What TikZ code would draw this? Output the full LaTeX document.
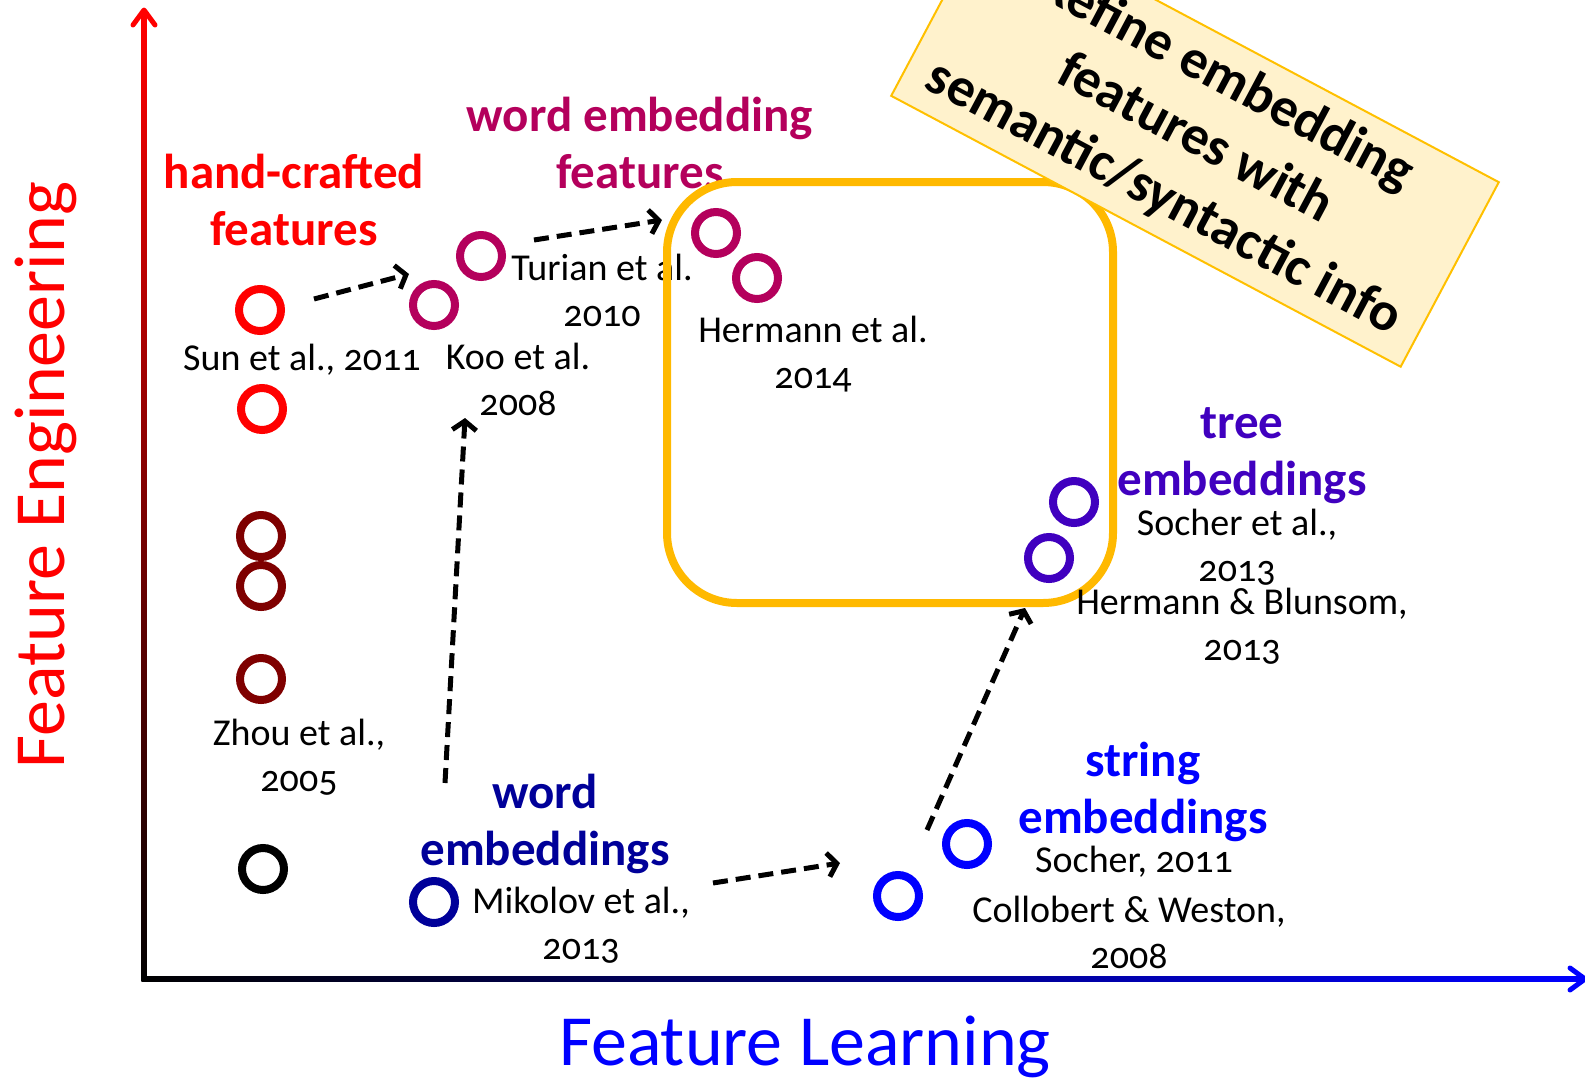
\documentclass[tikz,border=0pt]{standalone}
\usepackage{fontspec}
\setmainfont{Carlito}[Numbers=OldStyle]
\usetikzlibrary{arrows.meta}

\definecolor{hcred}{HTML}{FF0000}
\definecolor{hcdark}{HTML}{7F0000}
\definecolor{wefmag}{HTML}{B4005C}
\definecolor{weblue}{HTML}{000099}
\definecolor{strblue}{HTML}{0000FF}
\definecolor{treeind}{HTML}{4000BF}
\definecolor{boxorange}{HTML}{FFB900}
\definecolor{notefill}{HTML}{FFF2CC}
\definecolor{noteedge}{HTML}{FFC000}

\tikzset{
  ring/.style={circle, draw=#1, line width=8pt, minimum size=42pt, inner sep=0pt},
  cite/.style={align=center, inner sep=0pt, font=\fontsize{38}{46}\selectfont},
  head/.style={align=center, inner sep=0pt, text=#1, font=\bfseries\fontsize{49}{57}\selectfont},
  axislabel/.style={inner sep=0pt, text=#1, font=\fontsize{72}{80}\selectfont},
  flow/.style={line width=5pt, dash pattern=on 15pt off 8pt,
    -{Straight Barb[length=9pt,width=24pt]}},
  chevron/.style={line width=5pt, line cap=round, line join=round}
}

\begin{document}
\begin{tikzpicture}[x=1pt,y=-1pt]
\useasboundingbox (0,0) rectangle (1585,1082);
\clip (0,0) rectangle (1585,1082);

% axes with colour gradients
\coordinate (origin) at (144,979);
\coordinate (ytip) at (144,10);
\coordinate (xtip) at (1585,979);
\shade[top color=hcred, middle color=hcred!55!black, bottom color=black]
  (141.5,14) rectangle (146.5,981.5);
\shade[left color=black, right color=strblue] (141.5,976.5) rectangle (1581,981.5);
\draw[chevron, hcred] (133,25) -- (ytip) -- (155,25);
\draw[chevron, strblue] (1570,968) -- (xtip) -- (1570,990);

\node[axislabel=hcred, rotate=90] (yl) at (46,475) {Feature Engineering};
\node[axislabel=strblue] (xl) at (805,1047) {Feature Learning};

% hand-crafted features
\node[head=hcred] (hc) at (294,200) {hand-crafted\\features};
\node[ring=hcred] (r1) at (260,310) {};
\node[ring=hcred] (r2) at (262,409) {};
\node[ring=hcdark] (d1) at (261,536) {};
\node[ring=hcdark] (d2) at (261,586) {};
\node[ring=hcdark] (d3) at (261,679) {};
\node[ring=black] (b1) at (263,869) {};
\node[cite] (sun) at (302,360) {Sun et al., 2011};
\node[cite] (zhou) at (299,757) {Zhou et al.,\\2005};

% word embedding features
\node[head=wefmag] (wef) at (640,143) {word embedding\\features};
\node[ring=wefmag] (koo) at (434,305) {};
\node[ring=wefmag] (tur) at (481,256) {};
\node[ring=wefmag] (her1) at (716,233) {};
\node[ring=wefmag] (her2) at (757,278) {};
\node[cite] (kootxt) at (518,379) {Koo et al.\\2008};
\node[cite] (turtxt) at (602,290) {Turian et al.\\2010};
\node[cite] (hertxt) at (813,354) {Hermann et al.\\2014};

% highlighted region
\draw[boxorange, line width=8pt, rounded corners=70pt] (667,182) rectangle (1113,603);

% tree embeddings
\node[head=treeind] (tree) at (1242,456) {tree\\embeddings};
\node[ring=treeind] (t1) at (1074,502) {};
\node[ring=treeind] (t2) at (1049,558) {};
\node[cite] (soc13) at (1237,547) {Socher et al.,\\2013};
\node[cite] (hb13) at (1242,626) {Hermann \& Blunsom,\\2013};

% string embeddings
\node[head=strblue] (str) at (1143,792) {string\\embeddings};
\node[ring=strblue] (s1) at (967,844) {};
\node[ring=strblue] (s2) at (898,896) {};
\node[cite] (soc11) at (1134,862) {Socher, 2011};
\node[cite] (cw08) at (1129,932) {Collobert \& Weston,\\2008};

% word embeddings
\node[head=weblue] (we) at (545,824) {word\\embeddings};
\node[ring=weblue] (mik) at (434,902) {};
\node[cite] (miktxt) at (581,925) {Mikolov et al.,\\2013};

% note box
\node[draw=noteedge, line width=2pt, fill=notefill, rotate=-28,
      minimum width=577pt, minimum height=209pt, inner sep=0pt,
      align=center, font=\bfseries\fontsize{55}{67}\selectfont] (note) at (1195,139)
  {Refine embedding\\features with\\semantic/syntactic info};

% progression arrows
\coordinate (a1s) at (314,299);  \coordinate (a1e) at (409,274);
\coordinate (a2s) at (534,240);  \coordinate (a2e) at (662,220);
\coordinate (a3s) at (445,783);  \coordinate (a3e) at (465,418);
\coordinate (a4s) at (713,883);  \coordinate (a4e) at (840,863);
\coordinate (a5s) at (927,830);  \coordinate (a5e) at (1025,608);
\draw[flow] (a1s) -- (a1e);
\draw[flow] (a2s) -- (a2e);
\draw[flow] (a3s) -- (a3e);
\draw[flow] (a4s) -- (a4e);
\draw[flow] (a5s) -- (a5e);
\end{tikzpicture}
\end{document}
